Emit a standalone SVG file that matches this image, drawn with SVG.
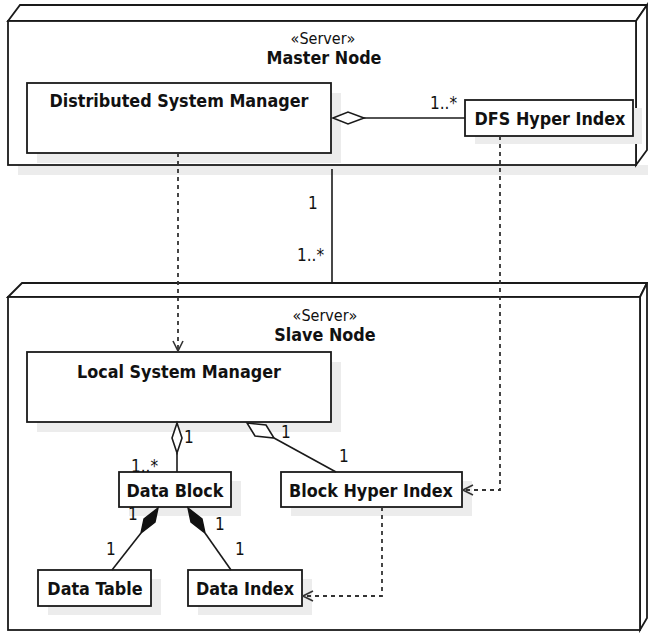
<svg xmlns="http://www.w3.org/2000/svg" width="648" height="634" viewBox="0 0 648 634">
<defs>
<style>
.fr{fill:#fff;stroke:#1a1a1a;stroke-width:1.8}
.sh{fill:#ececec;stroke:none}
.ln{fill:none;stroke:#1a1a1a;stroke-width:1.6}
.dash{fill:none;stroke:#333;stroke-width:1.8;stroke-dasharray:4 4}
.t{font-family:"DejaVu Sans Condensed","DejaVu Sans",sans-serif;fill:#111;text-anchor:middle}
.b{font-weight:bold;font-size:17.8px}
.st{font-size:16px}
.m{font-family:"DejaVu Sans Condensed","DejaVu Sans",sans-serif;font-size:17px;fill:#111}
</style>
<marker id="open" viewBox="0 0 12 12" refX="11" refY="6" markerWidth="12" markerHeight="12" markerUnits="userSpaceOnUse" orient="auto">
<path d="M1,1 L11,6 L1,11" fill="none" stroke="#333" stroke-width="1.6"/>
</marker>
</defs>
<rect width="648" height="634" fill="#fff"/>

<g id="master-node">
<rect class="sh" x="18" y="165" width="630" height="10"/>
<polygon class="fr" points="8,21 20,5 647,5 636,21"/>
<polygon class="fr" points="636,21 647,5 647,150 636,165"/>
<rect class="fr" x="8" y="21" width="628" height="144"/>
<text class="t st" x="323" y="44">«Server»</text>
<text class="t b" x="324" y="64">Master Node</text>
</g>

<g id="slave-node">
<polygon class="fr" points="8,297 22,283 647,283 640,297"/>
<polygon class="fr" points="640,297 647,283 647,618 640,630"/>
<rect class="fr" x="8" y="297" width="632" height="333"/>
<text class="t st" x="325" y="321">«Server»</text>
<text class="t b" x="325" y="341">Slave Node</text>
</g>

<g id="distributed-system-manager">
<rect class="sh" x="37" y="93" width="304" height="70"/>
<rect class="fr" x="27" y="83" width="304" height="70"/>
<text class="t b" x="179" y="107">Distributed System Manager</text>
</g>

<g id="dfs-hyper-index">
<rect class="sh" x="475" y="108" width="167" height="36"/>
<rect class="fr" x="465" y="100" width="168" height="36"/>
<text class="t b" x="550" y="125">DFS Hyper Index</text>
</g>

<g id="local-system-manager">
<rect class="sh" x="37" y="362" width="304" height="70"/>
<rect class="fr" x="27" y="352" width="304" height="70"/>
<text class="t b" x="179" y="378">Local System Manager</text>
</g>

<g id="data-block">
<rect class="sh" x="129" y="481" width="112" height="35"/>
<rect class="fr" x="119" y="472" width="112" height="35"/>
<text class="t b" x="175" y="497">Data Block</text>
</g>

<g id="block-hyper-index">
<rect class="sh" x="291" y="481" width="181" height="35"/>
<rect class="fr" x="281" y="472" width="181" height="35"/>
<text class="t b" x="371" y="497">Block Hyper Index</text>
</g>

<g id="data-table">
<rect class="sh" x="48" y="579" width="113" height="36"/>
<rect class="fr" x="38" y="570" width="113" height="36"/>
<text class="t b" x="95" y="595">Data Table</text>
</g>

<g id="data-index">
<rect class="sh" x="198" y="579" width="114" height="36"/>
<rect class="fr" x="188" y="570" width="114" height="36"/>
<text class="t b" x="245" y="595">Data Index</text>
</g>

<g id="connectors">
<polygon points="333,118 348,112 364,118 348,124" fill="#fff" stroke="#1a1a1a" stroke-width="1.6"/>
<line class="ln" x1="364" y1="118" x2="465" y2="118"/>
<text class="m" x="430" y="109">1..*</text>
<line class="ln" x1="332" y1="169" x2="332" y2="283"/>
<text class="m" x="308" y="209">1</text>
<text class="m" x="297" y="261">1..*</text>
<line class="dash" x1="178" y1="153" x2="178" y2="351" marker-end="url(#open)"/>
<polyline class="dash" points="500,136 500,490 463,490" marker-end="url(#open)"/>
<polyline class="dash" points="382,507 382,596 303,596" marker-end="url(#open)"/>
<polygon points="177,423 182,438 177,453 172,438" fill="#fff" stroke="#1a1a1a" stroke-width="1.6"/>
<line class="ln" x1="177" y1="453" x2="177" y2="472"/>
<text class="m" x="184" y="443">1</text>
<text class="m" x="131" y="472">1..*</text>
<polygon points="247,423 266,425 274,438 255,436" fill="#fff" stroke="#1a1a1a" stroke-width="1.6"/>
<line class="ln" x1="274" y1="438" x2="336" y2="472"/>
<text class="m" x="281" y="438">1</text>
<text class="m" x="339" y="462">1</text>
<polygon points="158,508 155,522 141,533 144,519" fill="#111" stroke="#111" stroke-width="1.4"/>
<line class="ln" x1="141" y1="533" x2="112" y2="570"/>
<text class="m" x="128" y="520">1</text>
<text class="m" x="106" y="555">1</text>
<polygon points="188,508 202,519 205,533 191,522" fill="#111" stroke="#111" stroke-width="1.4"/>
<line class="ln" x1="205" y1="533" x2="231" y2="570"/>
<text class="m" x="215" y="530">1</text>
<text class="m" x="235" y="555">1</text>
</g>
</svg>
